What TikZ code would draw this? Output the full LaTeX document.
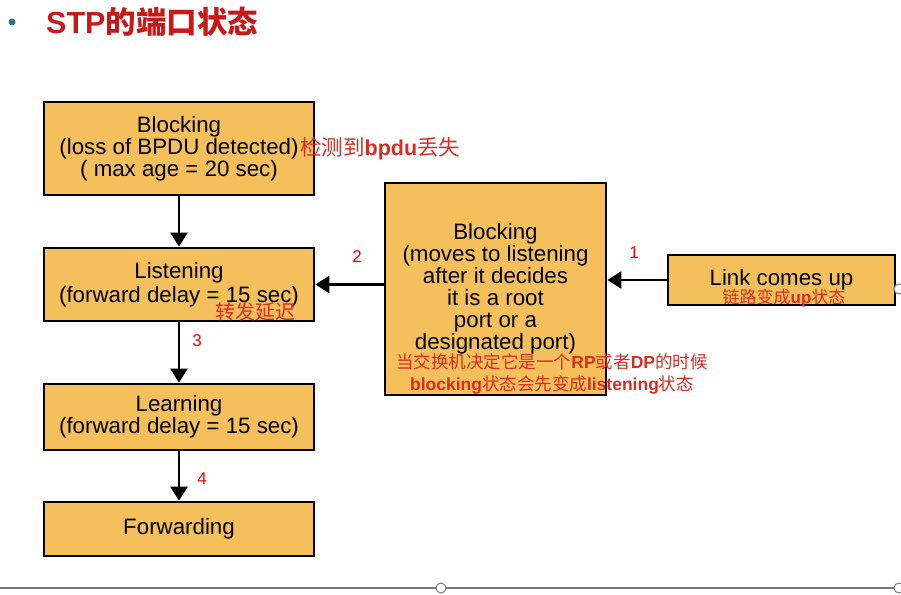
\documentclass[tikz,border=0pt]{standalone}
\usepackage{fontspec}
\setmainfont{Liberation Sans}
\newfontfamily\cjk{Noto Sans CJK SC}
\newfontfamily\latb{Liberation Sans}
\usetikzlibrary{arrows.meta}
\definecolor{boxfill}{RGB}{245,192,92}
\definecolor{annred}{RGB}{215,45,35}
\definecolor{titlered}{RGB}{200,25,25}
\definecolor{bulletc}{RGB}{40,120,130}
\definecolor{framegray}{RGB}{120,120,120}
\newcommand{\lb}[1]{{\latb\bfseries #1}}
\tikzset{
 statebox/.style={draw=black, line width=2.8pt, fill=boxfill, inner sep=0pt, align=center, font=\fontsize{22.3}{22}\selectfont},
 flow/.style={line width=2.8pt, -{Triangle[length=14pt,width=17pt]}},
 num/.style={text=red, inner sep=0pt, font=\fontsize{17}{17}\selectfont},
 ann/.style={text=annred, inner sep=0pt, align=center, font=\cjk\fontsize{18}{22}\selectfont},
 handle/.style={draw=framegray, fill=white, line width=1pt}
}
\begin{document}
\begin{tikzpicture}[x=1pt,y=-1pt]
\useasboundingbox (0,0) rectangle (901,594);
% title
\fill[bulletc] (12,22) circle (3.5);
\node[anchor=west, inner sep=0pt, text=titlered, font=\fontsize{30.5}{31}\selectfont] (title) at (46,22) {\lb{STP}{\cjk\bfseries 的端口状态}};
% boxes
\node[statebox, minimum width=270, minimum height=93] (b1) at (179,148.5) {Blocking\\(loss of BPDU detected)\\( max age = 20 sec)};
\node[statebox, minimum width=270, minimum height=73] (b2) at (179,284.5) {\raisebox{2pt}{\shortstack{Listening\\(forward delay = 15 sec)}}};
\node[statebox, minimum width=270, minimum height=66] (b3) at (179,417) {Learning\\(forward delay = 15 sec)};
\node[statebox, minimum width=270, minimum height=54] (b4) at (179,529) {Forwarding};
\node[statebox, minimum width=221, minimum height=212] (b5) at (495.5,289) {Blocking\\(moves to listening\\after it decides\\it is a root\\port or a\\designated port)};
\node[statebox, minimum width=227, minimum height=50] (b6) at (781.5,280) {\raisebox{3pt}{Link comes up}};
% arrows
\draw[flow] (b1) -- (b2);
\draw[flow] (b2) -- (b3);
\draw[flow] (b3) -- (b4);
\draw[flow] (b5.west |- b2.east) -- (b2.east);
\draw[flow] (b6.west) -- (b5.east |- b6.west);
% numbers
\node[num] (n1) at (634,253) {1};
\node[num] (n2) at (357,257) {2};
\node[num] (n3) at (197,341) {3};
\node[num] (n4) at (202,479) {4};
% annotations
\node[ann, anchor=west, font=\cjk\fontsize{21.5}{22}\selectfont] (a1) at (300,149) {检测到\lb{bpdu}丢失};
\node[ann, font=\cjk\fontsize{20}{22}\selectfont] (a2) at (255,312) {转发延迟};
\node[ann, font=\cjk\fontsize{17.5}{22}\selectfont] (a3) at (552,374) {当交换机决定它是一个\lb{RP}或者\lb{DP}的时候\\\lb{blocking}状态会先变成\lb{listening}状态};
\node[ann, font=\cjk\fontsize{17}{22}\selectfont] (a4) at (784,298) {链路变成\lb{up}状态};
% selection frame
\draw[framegray, line width=1.2pt] (0,588) -- (901,588);
\draw[handle] (441,588) circle (5);
\draw[handle] (899,588) circle (5);
\draw[handle] (899,289) circle (5);
\end{tikzpicture}
\end{document}
